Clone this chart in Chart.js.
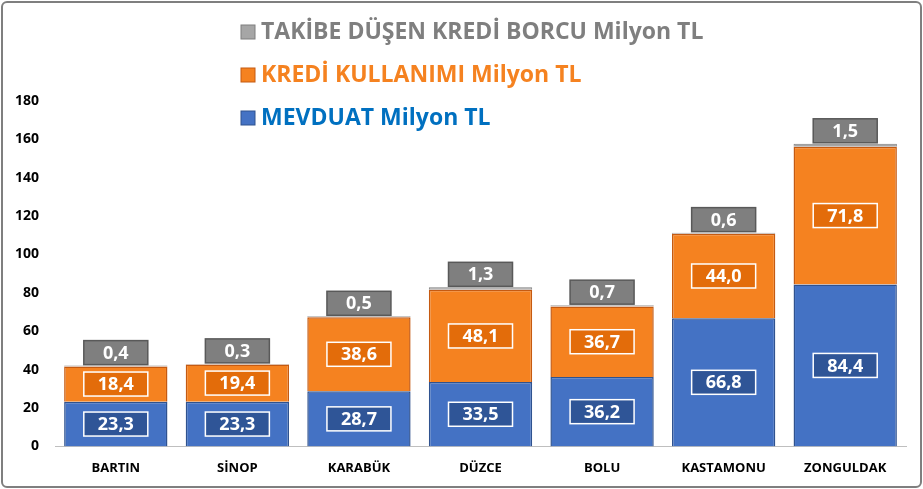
<!DOCTYPE html>
<html><head><meta charset="utf-8">
<script src="https://cdn.jsdelivr.net/npm/chart.js@4"></script>
<style>
html,body{margin:0;padding:0;background:#fff;}
#wrap{position:absolute;left:1px;top:1px;width:917px;height:483px;border:2px solid #7f7f7f;border-radius:6px;background:#fff;}
canvas{display:block;}
</style></head><body>
<div id="wrap"><canvas id="c" width="917" height="483"></canvas></div>
<script>
const categories=["BARTIN","SİNOP","KARABÜK","DÜZCE","BOLU","KASTAMONU","ZONGULDAK"];
const mevduat=[23.3,23.3,28.7,33.5,36.2,66.8,84.4];
const kredi=[18.4,19.4,38.6,48.1,36.7,44.0,71.8];
const takip=[0.4,0.3,0.5,1.3,0.7,0.6,1.5];
const yTicks=[0,20,40,60,80,100,120,140,160,180];
const names=["MEVDUAT Milyon TL","KREDİ KULLANIMI Milyon TL","TAKİBE DÜŞEN KREDİ BORCU Milyon TL"];
const fill=["#4472C4","#F58220","#A6A6A6"];
const edge=["#2F528F","#C55A11","#7F7F7F"];
const boxBg=["#2F5597","#E36C0A","#7F7F7F"];
const txtCol=["#0070C0","#F58220","#7F7F7F"];
const fmt=v=>v.toFixed(1).replace('.',',');
const labelPlugin={id:'lbl',afterDatasetsDraw(ch){
 const c=ch.ctx;
 ch.data.datasets.forEach((ds,i)=>{
  ch.getDatasetMeta(i).data.forEach((el,j)=>{
   let x=el.x,y;
   if(i<2) y=(el.y+el.base)/2; else y=el.y-13;
   const w=64,h=24;
   c.save();
   c.fillStyle=boxBg[i];c.strokeStyle=i==2?'#595959':'#ffffff';c.lineWidth=1.5;
   c.fillRect(x-w/2,y-h/2,w,h);c.strokeRect(x-w/2,y-h/2,w,h);
   c.fillStyle='#fff';c.font='bold 18px "Open Sans", sans-serif';c.textAlign='center';c.textBaseline='middle';
   c.fillText(fmt(ds.data[j]),x,y+1);
   c.restore();
  });
 });
 const rows=[[2,29],[1,72],[0,115]];
 rows.forEach(([i,y])=>{
  c.save();
  c.fillStyle=fill[i];c.strokeStyle=edge[i];
  c.fillRect(238,y-7,14,14);c.strokeRect(238,y-7,14,14);
  c.fillStyle=txtCol[i];c.font='bold 23px "Open Sans", sans-serif';c.textBaseline='middle';
  c.fillText(names[i],258,y);
  c.restore();
 });
}};
new Chart(document.getElementById('c'),{
 type:'bar',
 data:{labels:categories,datasets:[
  {label:names[0],data:mevduat,backgroundColor:fill[0],borderColor:edge[0],borderWidth:1.5},
  {label:names[1],data:kredi,backgroundColor:fill[1],borderColor:edge[1],borderWidth:1.5},
  {label:names[2],data:takip,backgroundColor:fill[2],borderColor:edge[2],borderWidth:1}
 ].map(d=>Object.assign(d,{barPercentage:0.85,categoryPercentage:1}))},
 options:{responsive:false,animation:false,
  layout:{padding:{top:98,right:14,left:4,bottom:4}},
  plugins:{legend:{display:false},tooltip:{enabled:false}},
  scales:{
   x:{stacked:true,grid:{display:false},border:{color:'#bfbfbf'},ticks:{color:'#000',font:{weight:'bold',size:13,family:'"Open Sans", sans-serif'},padding:6}},
   y:{stacked:true,min:0,max:180,afterBuildTicks:a=>{a.ticks=yTicks.map(v=>({value:v}));},
      grid:{display:false},border:{display:false},ticks:{color:'#000',font:{weight:'bold',size:14,family:'"Open Sans", sans-serif'},padding:8}}
  }},
 plugins:[labelPlugin]
});
</script></body></html>
